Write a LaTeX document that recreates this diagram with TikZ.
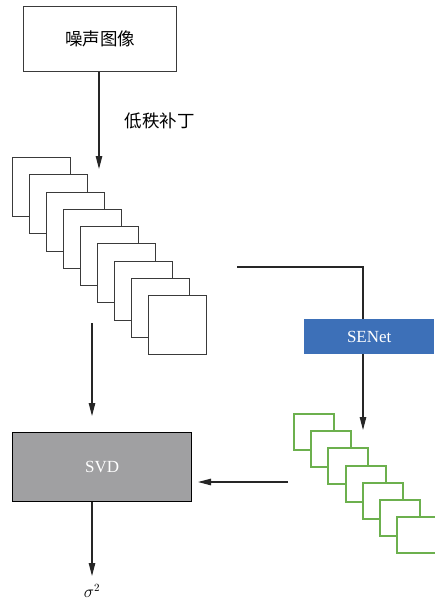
\documentclass[tikz,border=0pt]{standalone}
\usepackage{fontspec}
\setmainfont{Liberation Serif}
\newfontfamily\cjk{Noto Sans CJK SC}
\usetikzlibrary{arrows.meta}
\definecolor{edgegray}{HTML}{3A3A3A}
\definecolor{greenedge}{HTML}{6CB04E}
\definecolor{seblue}{HTML}{3D70B8}
\definecolor{svdgray}{HTML}{A0A0A2}
\begin{document}
\begin{tikzpicture}[x=1pt,y=-1pt,
  box/.style={draw=edgegray,line width=1.2pt,inner sep=0pt},
  blacksq/.style={draw=edgegray,fill=white,line width=1.3pt,inner sep=0pt,anchor=north west,minimum width=58pt,minimum height=59pt},
  greensq/.style={draw=greenedge,fill=white,line width=1.7pt,inner sep=0pt,anchor=north west,minimum width=40pt,minimum height=36pt},
  conn/.style={draw=black!85,line width=1.1pt},
  arr/.style={conn,-{Triangle[length=13pt,width=6.5pt]}}]
\useasboundingbox (0,0) rectangle (434,602);
% top box
\node[box,anchor=north west,minimum width=153pt,minimum height=65pt] (img) at (23,6) {};
\node[font=\cjk\fontsize{17.5}{19}\selectfont] (imgt) at (img.center) {噪声图像};
\coordinate (stacktop) at (99,169);
\draw[arr] (img.south -| stacktop) -- (stacktop);
\node[font=\cjk\fontsize{17.5}{19}\selectfont,anchor=west] (patch) at (121,121) {低秩补丁};
% black stack
\foreach \i in {0,...,8}{
  \node[blacksq] (b\i) at ({12+17*\i},{157+round(17.25*\i)}) {};
}
% line to SENet
\node[fill=seblue,inner sep=0pt,anchor=north west,minimum width=130pt,minimum height=35pt] (se) at (304,319) {};
\node[text=white,font=\fontsize{17}{19}\selectfont] (set) at (se.center) {SENet};
\coordinate (lstart) at (237,267);
\coordinate (secol) at (363,300);
\draw[conn] (lstart) -| (se.north -| secol);
\coordinate (gtop) at (363,430);
\draw[arr] (se.south -| gtop) -- (gtop);
% green stack
\foreach \i in {0,...,6}{
  \node[greensq] (g\i) at ({293+round(17.2*\i)},{413+round(17.2*\i)}) {};
}
% SVD
\node[draw=black,fill=svdgray,line width=1.2pt,inner sep=0pt,anchor=north west,minimum width=179pt,minimum height=69pt] (svd) at (12,432) {};
\node[text=white,font=\fontsize{17}{19}\selectfont] (svdt) at (svd.center) {SVD};
\coordinate (lstart2) at (92,323);
\coordinate (lend2) at (92,416);
\draw[arr] (lstart2) -- (lend2);
\coordinate (gstart) at (288,482);
\coordinate (svdin) at (198,482);
\draw[arr] (gstart) -- (svdin);
\coordinate (sigtop) at (92,576);
\draw[arr] (svd.south -| sigtop) -- (sigtop);
\node[font=\fontsize{16}{18}\selectfont] (sig) at (92,591) {$\sigma^2$};
\end{tikzpicture}
\end{document}
